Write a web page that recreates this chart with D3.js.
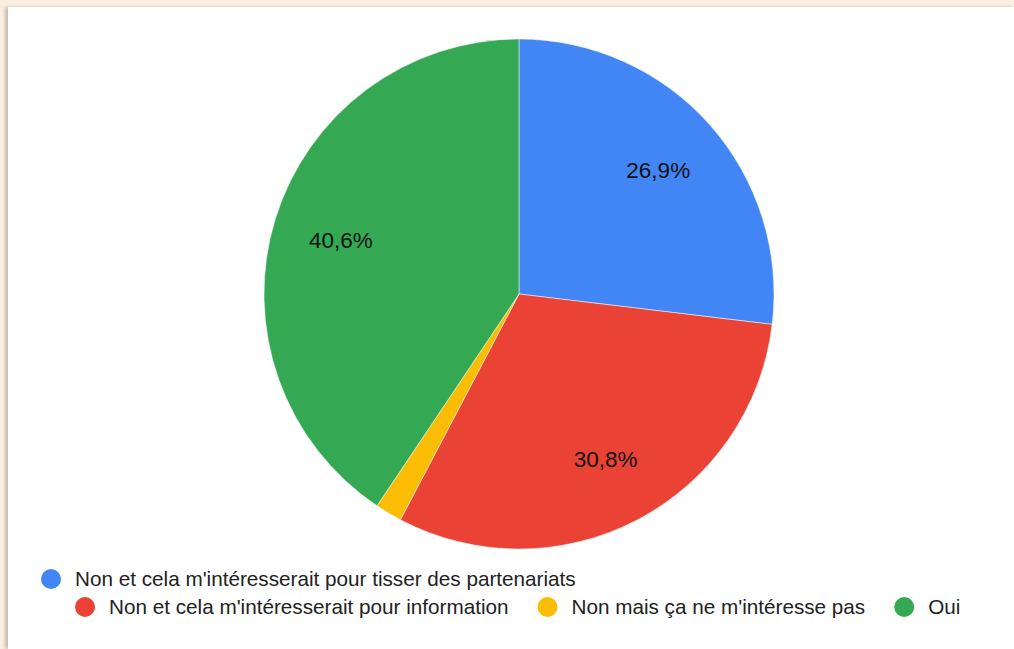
<!DOCTYPE html>
<html>
<head>
<meta charset="utf-8">
<script src="https://cdn.jsdelivr.net/npm/d3@7"></script>
<style>
  html, body { margin: 0; padding: 0; background: #faeee0; }
  #panel { position: absolute; left: 8px; top: 7px; width: 1006px; height: 642px; background: #fff;
           box-shadow: -3px 0 3px rgba(120,100,80,0.35); }
  svg { display: block; }
</style>
</head>
<body>
<div id="panel"></div>
<script>
// chart values
let labels = ["Non et cela m'intéresserait pour tisser des partenariats",
              "Non et cela m'intéresserait pour information",
              "Non mais ça ne m'intéresse pas",
              "Oui"];
let shares = [26.9, 30.8, 1.7, 40.6];
let shareText = ["26,9%", "30,8%", "", "40,6%"];
let colors = ["#4285f4", "#ea4335", "#fbbc04", "#34a853"];

let width = 1006, height = 642;
let svg = d3.select("#panel").append("svg").attr("width", width).attr("height", height);

let cx = 511, cy = 287, radius = 255;

let pie = d3.pie().sort(null).value(d => d);
let arc = d3.arc().innerRadius(0).outerRadius(radius);
let labelArc = d3.arc().innerRadius(radius * 0.73).outerRadius(radius * 0.73);

let g = svg.append("g").attr("transform", "translate(" + cx + "," + cy + ")");
let arcs = pie(shares);

g.selectAll(".slice")
  .data(arcs)
  .enter()
  .append("path")
  .attr("class", "slice")
  .attr("d", arc)
  .attr("fill", (d, i) => colors[i])
  .attr("stroke", "#fff")
  .attr("stroke-width", 0.5);

g.selectAll(".pct")
  .data(arcs)
  .enter()
  .append("text")
  .attr("class", "pct")
  .attr("transform", d => "translate(" + labelArc.centroid(d) + ")")
  .attr("text-anchor", "middle")
  .attr("dy", "0.35em")
  .attr("font-family", "Arial, 'Liberation Sans', sans-serif")
  .attr("font-size", "22.5px")
  .attr("fill", "#111")
  .text((d, i) => shareText[i]);

// LEGEND
let legend = svg.append("g").attr("font-family", "Arial, 'Liberation Sans', sans-serif").attr("font-size", "20.7px");
let rows = [[0], [1, 2, 3]];
let rowStart = [43, 77];
let rowY = [572, 600];

rows.forEach((row, r) => {
  let x = rowStart[r];
  row.forEach(i => {
    let item = legend.append("g").attr("transform", "translate(" + x + "," + rowY[r] + ")");
    item.append("circle").attr("cx", 0).attr("cy", 0).attr("r", 10).attr("fill", colors[i]);
    let t = item.append("text")
      .attr("x", 24)
      .attr("dy", "0.35em")
      .attr("fill", "#222")
      .text(labels[i]);
    x += 24 + t.node().getComputedTextLength() + 39;
  });
});
</script>
</body>
</html>
